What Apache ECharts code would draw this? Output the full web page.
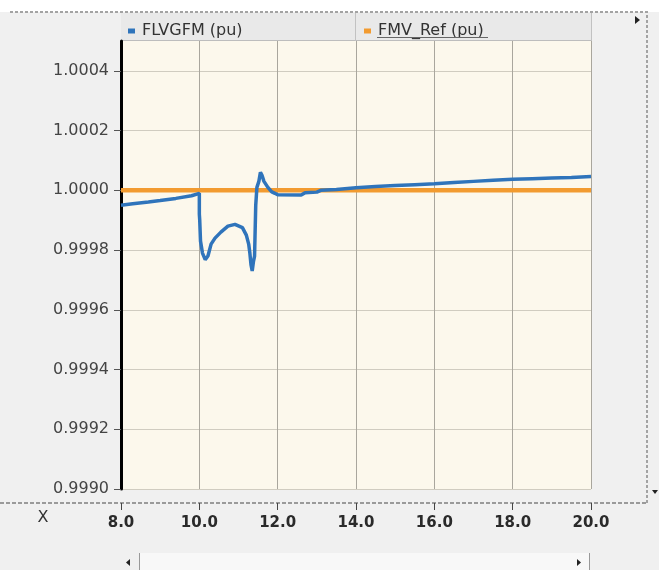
<!DOCTYPE html>
<html><head><meta charset="utf-8">
<script src="https://cdn.jsdelivr.net/npm/echarts@6/dist/echarts.min.js"></script>
<style>
html,body{margin:0;padding:0;background:#fff}
#c{width:659px;height:570px;background:linear-gradient(#ffffff 0,#ffffff 12px,#f0f0f0 12px)}
</style>
</head><body><div id="c"></div>
<script>
// ---- data ----
const seriesNames = ['FLVGFM (pu)', 'FMV_Ref (pu)'];
const xTickValues = [8, 10, 12, 14, 16, 18, 20];
const yTickValues = [0.9990, 0.9992, 0.9994, 0.9996, 0.9998, 1.0000, 1.0002, 1.0004];
const axisTitleX = 'X';

const flvgfmX = [8.0, 8.3, 8.7, 9.0, 9.4, 9.8, 10.0, 10.0, 10.01, 10.03, 10.08, 10.15, 10.22, 10.3, 10.4,
  10.55, 10.73, 10.91, 11.1, 11.2, 11.26, 11.29, 11.32, 11.35, 11.38, 11.41, 11.44, 11.47, 11.52,
  11.56, 11.6, 11.65, 11.75, 11.85, 11.93, 12.0, 12.6, 12.7, 13.0, 13.1, 13.5, 14.0, 14.5, 15.0,
  15.5, 16.0, 16.5, 17.0, 17.5, 18.0, 18.5, 19.0, 19.5, 20.0];
const flvgfmY = [0.999950, 0.999955, 0.999961, 0.999966, 0.999973, 0.999982, 0.999990, 0.999920, 0.999900,
  0.999830, 0.999790, 0.999768, 0.999780, 0.999820, 0.999840, 0.999860, 0.999880, 0.999886, 0.999875,
  0.999850, 0.999820, 0.999790, 0.999750, 0.999730, 0.999760, 0.999780, 0.999950, 1.000010, 1.000030,
  1.000060, 1.000050, 1.000030, 1.000010, 0.999995, 0.999990, 0.999985, 0.999984, 0.999992, 0.999994,
  1.000000, 1.000003, 1.000009, 1.000013, 1.000016, 1.000019, 1.000022, 1.000026, 1.000030, 1.000034,
  1.000037, 1.000039, 1.000041, 1.000043, 1.000046];
const fmvRefX = [8.0, 20.0];
const fmvRefY = [1.0000, 1.0000];

// ---- chart ----
const chart = echarts.init(document.getElementById('c'), null, {renderer: 'canvas'});
const FONT = 'DejaVu Sans';
const legendBase = {
  icon: 'rect', itemWidth: 7, itemHeight: 5, itemGap: 8, top: 18, selectedMode: false,
  textStyle: {fontFamily: FONT, fontSize: 16, color: '#333', padding: [0, 0, 0, 2]}
};
chart.setOption({
  animation: false,
  backgroundColor: 'transparent',
  textStyle: {fontFamily: FONT},
  grid: {left: 121, top: 41, width: 470, height: 448, show: true,
    backgroundColor: '#fcf8ec', borderWidth: 0, containLabel: false},
  legend: [
    Object.assign({}, legendBase, {data: [seriesNames[0]], left: 123}),
    Object.assign({}, legendBase, {data: [seriesNames[1]], left: 359})
  ],
  xAxis: {
    type: 'value', min: 8, max: 20, interval: 2, offset: 14,
    axisLine: {show: false},
    axisTick: {show: true, length: 7, lineStyle: {color: '#444', width: 1}},
    axisLabel: {fontFamily: FONT, fontSize: 15, fontWeight: 'bold', color: '#2a2a2a', margin: 13,
      formatter: v => v.toFixed(1)},
    splitLine: {show: true, lineStyle: {color: '#a9a69d', width: 1}}
  },
  yAxis: {
    type: 'value', min: 0.999, max: 1.0005, interval: 0.0002,
    axisLine: {show: true, onZero: false, lineStyle: {color: '#000', width: 3}},
    axisTick: {show: true, length: 7, customValues: yTickValues, lineStyle: {color: '#555'}},
    axisLabel: {fontFamily: FONT, fontSize: 16, color: '#444', margin: 12,
      customValues: yTickValues, formatter: v => v.toFixed(4)},
    splitLine: {show: true, lineStyle: {color: '#d0ccc0', width: 1}}
  },
  series: [
    {name: seriesNames[0], type: 'line', color: '#2f74bb', showSymbol: false, z: 3,
      lineStyle: {width: 3.5, color: '#2f74bb'},
      data: flvgfmX.map((x, i) => [x, flvgfmY[i]])},
    {name: seriesNames[1], type: 'line', color: '#f29b30', showSymbol: false, z: 2,
      lineStyle: {width: 4.5, color: '#f29b30'},
      data: fmvRefX.map((x, i) => [x, fmvRefY[i]])}
  ],
  graphic: [
    {type: 'rect', shape: {x: 121, y: 13, width: 470, height: 28}, style: {fill: '#e9e9e9'}, z: 0},
    {type: 'line', shape: {x1: 121, y1: 40.5, x2: 591, y2: 40.5}, style: {stroke: '#bdbdbd', lineWidth: 1}},
    {type: 'line', shape: {x1: 355.5, y1: 13, x2: 355.5, y2: 41}, style: {stroke: '#c2c2c2', lineWidth: 1}},
    {type: 'line', shape: {x1: 591.5, y1: 13, x2: 591.5, y2: 41}, style: {stroke: '#c2c2c2', lineWidth: 1}},
    {type: 'line', shape: {x1: 377, y1: 37.5, x2: 488, y2: 37.5}, style: {stroke: '#666', lineWidth: 1}, z: 10},
    {type: 'polyline', shape: {points: [[10, 12], [647, 12], [647, 503]]},
      style: {stroke: '#a3a3a3', lineWidth: 2, lineDash: [3, 2], fill: null}},
    {type: 'line', shape: {x1: 0, y1: 503, x2: 647, y2: 503},
      style: {stroke: '#9a9a9a', lineWidth: 2, lineDash: [4, 2]}},
    {type: 'polygon', shape: {points: [[635, 16], [640, 20], [635, 24]]}, style: {fill: '#222'}},
    {type: 'polygon', shape: {points: [[652, 490], [658, 490], [655, 494]]}, style: {fill: '#222'}},
    {type: 'text', style: {text: axisTitleX, x: 43, y: 518, align: 'center', verticalAlign: 'middle',
      font: '16px "DejaVu Sans"', fill: '#333'}},
    {type: 'rect', shape: {x: 139, y: 553, width: 450, height: 17}, style: {fill: '#f8f8f8'}},
    {type: 'line', shape: {x1: 139.5, y1: 553, x2: 139.5, y2: 570}, style: {stroke: '#999', lineWidth: 1}},
    {type: 'line', shape: {x1: 589.5, y1: 553, x2: 589.5, y2: 570}, style: {stroke: '#999', lineWidth: 1}},
    {type: 'polygon', shape: {points: [[130, 559], [126, 562.5], [130, 566]]}, style: {fill: '#222'}},
    {type: 'polygon', shape: {points: [[577, 559], [581, 562.5], [577, 566]]}, style: {fill: '#222'}}
  ]
});
</script>
</body></html>
